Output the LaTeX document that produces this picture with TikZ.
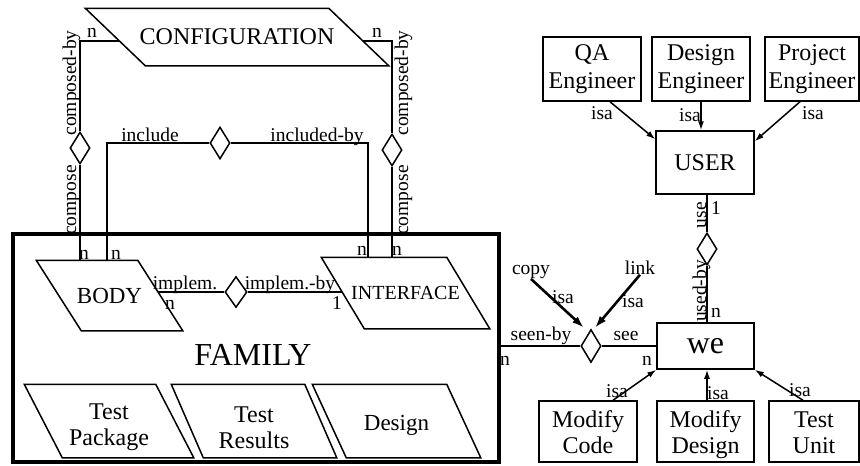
\documentclass[tikz,border=0pt]{standalone}
\usepackage{fontspec}
\setmainfont{Liberation Serif}
\usetikzlibrary{shapes.geometric,arrows.meta,calc}
% #1 name, #2 centre, #3 total width, #4 height, #5 horizontal offset of the slant, #6 node options, #7 text
\newcommand{\pgram}[7]{%
  \node[pg,minimum width=#3,minimum height=#4,#6] (#1) at #2 {#7};
  \draw (#1.north west) -- ($(#1.north east)+(-#5,0)$) -- (#1.south east)
        -- ($(#1.south west)+(#5,0)$) -- cycle;
}
\begin{document}
\begin{tikzpicture}[x=1pt,y=-1pt,line width=1.5pt,
  lbl/.style={font=\fontsize{19.5}{21}\selectfont,inner sep=0pt},
  rlbl/.style={lbl,rotate=90,anchor=base},
  pg/.style={rectangle,inner sep=0pt,align=center},
  ent/.style={rectangle,draw,inner sep=0pt,align=center,font=\fontsize{24}{28}\selectfont},
  two/.style={font=\fontsize{24}{26}\selectfont,text height=48pt,text depth=0pt},
  rel/.style={diamond,draw,fill=white,inner sep=0pt,minimum width=20,minimum height=32},
  isa/.style={-{Latex[length=9pt,width=6pt]}},
  isab/.style={-{Latex[length=12pt,width=8pt]},line width=2.6pt},
]
\useasboundingbox (0,0) rectangle (860,466);

% FAMILY container
\node[draw,line width=3.5pt,minimum width=486,minimum height=228,inner sep=0pt] (fam) at (256,348) {};
\node[font=\fontsize{32}{34}\selectfont,inner sep=0pt] (famlbl) at (253,355) {FAMILY};

% parallelogram entities
\pgram{cfg}{(237,37)}{302}{56}{60}{font=\fontsize{24}{26}\selectfont}{CONFIGURATION}
\pgram{body}{(109.5,295.5)}{145}{69}{45}{font=\fontsize{23}{25}\selectfont}{BODY}
\pgram{intf}{(409.5,293)}{167}{70}{43}{font=\fontsize{20}{22}\selectfont,xshift=-4pt}{INTERFACE}
\pgram{tp}{(109,421)}{168}{72}{38}{two}{Test\\Package}
\pgram{tr}{(254,421)}{164}{72}{32}{two,text height=54pt}{Test\\Results}
\pgram{dsg}{(396.5,421)}{167}{72}{34}{font=\fontsize{23}{26}\selectfont,text height=18pt,text depth=0pt}{Design}

% rectangle entities
\node[ent,minimum width=98,minimum height=64] (qa) at (592,69) {QA\\Engineer};
\node[ent,minimum width=98,minimum height=64] (de) at (701,69) {Design\\Engineer};
\node[ent,minimum width=94,minimum height=64] (pe) at (812,69) {Project\\Engineer};
\node[ent,minimum width=98,minimum height=63] (user) at (705,162.5) {USER};
\node[ent,minimum width=97,minimum height=46,font=\fontsize{32}{34}\selectfont] (we) at (705.5,346) {we};
\node[ent,two,text height=43pt,minimum width=98,minimum height=61] (mc) at (588,431.5) {Modify\\Code};
\node[ent,two,text height=43pt,minimum width=97,minimum height=61] (md) at (705.5,431.5) {Modify\\Design};
\node[ent,two,text height=43pt,minimum width=90,minimum height=61] (tu) at (814,431.5) {Test\\Unit};

% relationships
\node[rel] (dL) at (80,148) {};
\node[rel] (dR) at (392,150) {};
\node[rel] (dC) at (220,143) {};
\node[rel,minimum width=22,minimum height=31] (dI) at (236,292) {};
\node[rel,minimum height=33] (dS) at (591,346) {};
\node[rel] (dU) at (707,249) {};

\node[lbl,anchor=base] (copy) at (531,274) {copy};
\node[lbl,anchor=base] (link) at (640,274) {link};

% connectors
\coordinate (cL) at (80,41);
\coordinate (cR) at (392,41);
\coordinate (iL) at (107,143);
\coordinate (iR) at (368,143);
\draw ($(cfg.west|-cL)+(34,0)$) -- (cL) -- (dL.north);
\draw (dL.south) -- (dL.south|-body.north);
\draw ($(cfg.east|-cR)+(-26,0)$) -- (cR) -- (dR.north);
\draw (dR.south) -- (dR.south|-intf.north);
\draw (dC.west) -- (iL) -- (iL|-body.north);
\draw (dC.east) -- (iR) -- (iR|-intf.north);
\draw ($(dI.west-|body.east)+(-25,0)$) -- (dI.west);
\draw (dI.east) -- ($(dI.east-|intf.west)+(21,0)$);
\draw (dS.west) -- (dS.west-|fam.east);
\draw (dS.east) -- (dS.east-|we.west);
\draw (dU.north) -- (dU.north|-user.south);
\draw (dU.south) -- (dU.south|-we.north);

\draw[isa] ($(qa.south)+(18,0)$) -- ($(user.north west)+(0,9)$);
\draw[isa] (de.south) -- (de.south|-user.north);
\draw[isa] ($(pe.south)+(-12,0)$) -- ($(user.north east)+(0,11)$);
\draw[isa] ($(mc.north)+(25,0)$) -- (we.south west);
\draw[isa] (md.north-|dU) -- (we.south-|dU);
\draw[isa] ($(tu.north)+(-11,0)$) -- (we.south east);
\draw[isab] (copy.south) -- ($(dS.north)+(-7,-1)$);
\draw[isab] (link.south) -- ($(dS.north)+(4,-1)$);

% labels
\node[lbl] at (92,33) {n};
\node[lbl] at (377,33) {n};
\node[rlbl] at (76,83) {composed-by};
\node[rlbl] at (76,200) {compose};
\node[rlbl] at (408,83) {composed-by};
\node[rlbl] at (408,200) {compose};
\node[lbl,anchor=base] at (150,141) {include};
\node[lbl,anchor=base] at (317,141) {included-by};
\node[lbl] at (84,255) {n};
\node[lbl] at (116,255) {n};
\node[lbl] at (362,251) {n};
\node[lbl] at (397,251) {n};
\node[lbl,anchor=base] at (185,289) {implem.};
\node[lbl] at (170,305) {n};
\node[lbl,anchor=base] at (290,289) {implem.-by};
\node[lbl] at (337,303) {1};
\node[lbl,anchor=base] at (541,340) {seen-by};
\node[lbl] at (505,361) {n};
\node[lbl,anchor=base] at (626,340) {see};
\node[lbl] at (647,361) {n};
\node[lbl] at (563,297) {isa};
\node[lbl] at (633,301) {isa};
\node[lbl] at (602,113) {isa};
\node[lbl] at (690,115) {isa};
\node[lbl] at (813,113) {isa};
\node[lbl] at (617,391) {isa};
\node[lbl] at (718,393) {isa};
\node[lbl] at (800,390) {isa};
\node[rlbl] at (706,215) {use};
\node[lbl] at (716,208) {1};
\node[rlbl] at (706,291) {used-by};
\node[lbl] at (716,313) {n};
\end{tikzpicture}
\end{document}
